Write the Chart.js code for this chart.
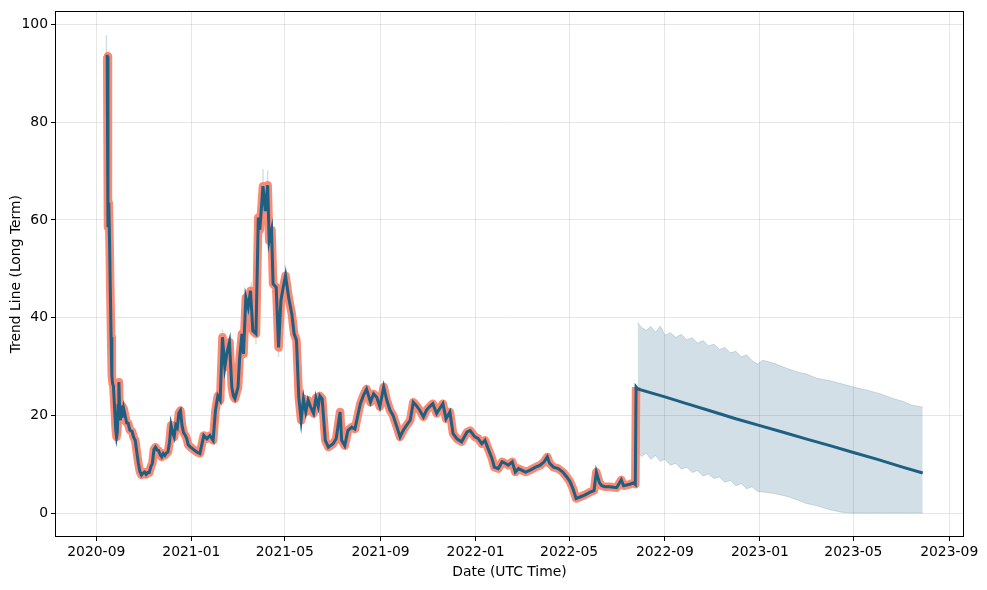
<!DOCTYPE html>
<html>
<head>
<meta charset="utf-8">
<script src="https://cdn.jsdelivr.net/npm/chart.js@4/dist/chart.umd.min.js"></script>
<style>
  html, body { margin: 0; padding: 0; background: #fff; }
</style>
</head>
<body>
<canvas id="myChart" width="987" height="590"></canvas>
<script>
// historical trend (actual)
const histDates = [
  '2020-09-13', '2020-09-15', '2020-09-16', '2020-09-17', '2020-09-18', '2020-09-19', '2020-09-20', '2020-09-21',
  '2020-09-22', '2020-09-23', '2020-09-24', '2020-09-26', '2020-09-27', '2020-09-28', '2020-09-29', '2020-09-30',
  '2020-10-01', '2020-10-02', '2020-10-03', '2020-10-04', '2020-10-06', '2020-10-08', '2020-10-10', '2020-10-12',
  '2020-10-14', '2020-10-17', '2020-10-19', '2020-10-21', '2020-10-23', '2020-10-25', '2020-10-27', '2020-10-29',
  '2020-10-31', '2020-11-02', '2020-11-04', '2020-11-06', '2020-11-08', '2020-11-10', '2020-11-12', '2020-11-14',
  '2020-11-16', '2020-11-18', '2020-11-20', '2020-11-22', '2020-11-24', '2020-11-26', '2020-11-28', '2020-11-30',
  '2020-12-02', '2020-12-04', '2020-12-06', '2020-12-08', '2020-12-10', '2020-12-12', '2020-12-14', '2020-12-16',
  '2020-12-18', '2020-12-20', '2020-12-22', '2020-12-24', '2020-12-26', '2020-12-28', '2020-12-31',
  '2021-01-04', '2021-01-08', '2021-01-12', '2021-01-17', '2021-01-21', '2021-01-25', '2021-01-29',
  '2021-02-01', '2021-02-04', '2021-02-07', '2021-02-10', '2021-02-13', '2021-02-16', '2021-02-19', '2021-02-22',
  '2021-02-24', '2021-02-26',
  '2021-03-02', '2021-03-04', '2021-03-07', '2021-03-09', '2021-03-12', '2021-03-15', '2021-03-18', '2021-03-21',
  '2021-03-25', '2021-03-28', '2021-03-30',
  '2021-04-03', '2021-04-06', '2021-04-09', '2021-04-11', '2021-04-14', '2021-04-16', '2021-04-20', '2021-04-23',
  '2021-04-26', '2021-04-29',
  '2021-05-02', '2021-05-06', '2021-05-10', '2021-05-13', '2021-05-16', '2021-05-19', '2021-05-22', '2021-05-25',
  '2021-05-28', '2021-05-31',
  '2021-06-03', '2021-06-07', '2021-06-10', '2021-06-13', '2021-06-15', '2021-06-18', '2021-06-22', '2021-06-26',
  '2021-07-02', '2021-07-06', '2021-07-11', '2021-07-13', '2021-07-17', '2021-07-21', '2021-07-26', '2021-07-30',
  '2021-08-06', '2021-08-10', '2021-08-14', '2021-08-19', '2021-08-23', '2021-08-27', '2021-08-31',
  '2021-09-05', '2021-09-09', '2021-09-13', '2021-09-17', '2021-09-22', '2021-09-26', '2021-09-30',
  '2021-10-04', '2021-10-09', '2021-10-13', '2021-10-17', '2021-10-21', '2021-10-26', '2021-10-30',
  '2021-11-03', '2021-11-07', '2021-11-12', '2021-11-16', '2021-11-20', '2021-11-24', '2021-11-29',
  '2021-12-03', '2021-12-08', '2021-12-14', '2021-12-21', '2021-12-25', '2021-12-31',
  '2022-01-04', '2022-01-09', '2022-01-13', '2022-01-17', '2022-01-22', '2022-01-25', '2022-01-30',
  '2022-02-04', '2022-02-08', '2022-02-12', '2022-02-17', '2022-02-21', '2022-02-25',
  '2022-03-01', '2022-03-06', '2022-03-12', '2022-03-19', '2022-03-25', '2022-03-30',
  '2022-04-03', '2022-04-06', '2022-04-11', '2022-04-17', '2022-04-23', '2022-04-28',
  '2022-05-02', '2022-05-06', '2022-05-10', '2022-05-15', '2022-05-21', '2022-05-28',
  '2022-06-02', '2022-06-05', '2022-06-09', '2022-06-12', '2022-06-16', '2022-06-22',
  '2022-07-01', '2022-07-07', '2022-07-10', '2022-07-18', '2022-07-23', '2022-07-25', '2022-07-26'
];
const histValues = [
  93.5, 93.5, 58.5, 63.5, 56, 46, 36, 28,
  26.5, 26, 23, 17, 15.6, 16.5, 22, 26.8,
  21, 19, 22, 19.5, 21.5, 20, 18.5, 18.4,
  17, 16.7, 15.5, 14.9, 12.5, 10.2, 8.5, 7.8,
  8.2, 8.4, 7.9, 8.3, 8.3, 9.5, 10.2, 13,
  13.5, 12.9, 12.8, 12, 11.5, 12.2, 11.8, 12.3,
  12.5, 14.5, 18, 16.5, 15.6, 18, 17.5, 20.5,
  21, 18, 16.5, 16, 15.3, 14, 13.5,
  13, 12.5, 12.2, 15.9, 15.2, 15.9, 14.9,
  21, 24, 23.1, 36, 29.9, 33, 35, 25.8,
  24, 23.4,
  25.8, 31.6, 36.7, 32.6, 44.1, 42.1, 45.5, 37.3,
  36.7, 60.5, 58,
  66.9, 61.8, 67.1, 55.7, 57.9, 46.9, 46.2, 33.9,
  43.5, 46.2,
  48.6, 44.1, 40.8, 36.7, 35.4, 23.7, 19, 23.4,
  20.7, 23.1,
  21.8, 20.4, 23.6, 21.8, 24, 23.4, 14.9, 13.5,
  14.2, 15.2, 20.7, 14.9, 13.8, 16.9, 17.6, 17.2,
  22.4, 24.1, 25.4, 22.7, 24.4, 23.7, 21.8,
  25.8, 23.1, 21.1, 20, 17.6, 15.6, 16.9,
  17.9, 19, 22.7, 22, 21.1, 19.7, 21.1,
  21.8, 22.4, 20.4, 21.4, 22.4, 19.3, 20.7,
  16.3, 15.2, 14.6, 16.6, 16.9, 15.6,
  15.3, 14.2, 14.9, 13.2, 11.2, 9.4, 9.1,
  10.5, 10.2, 9.8, 10.5, 8.4, 9.1,
  8.8, 8.4, 8.8, 9.4, 9.8, 10.5,
  11.5, 10.2, 9.4, 9.1, 8.4, 7.4,
  6.5, 5.0, 3.0, 3.3, 3.7, 4.3,
  4.6, 8.4, 6.2, 5.6, 5.4, 5.4,
  5.2, 6.8, 5.6, 5.9, 6.2, 5.9, 25.8
];

// uncertainty peeking out around the historical line
const spikeDates = ['2020-09-14', '2021-02-10', '2021-03-19', '2021-03-25', '2021-04-03', '2021-04-09', '2021-04-23', '2021-05-02'];
const spikeFrom = [93.5, 36, 45.5, 36.7, 66.9, 67.1, 33.9, 48.6];
const spikeTo = [97.8, 37.6, 47.2, 34.6, 70.4, 70.1, 32.0, 50.8];

// forecast trend line
const fcDates = ['2022-07-28', '2022-09-01', '2022-10-01', '2022-11-01', '2022-12-01', '2023-01-01', '2023-02-01',
  '2023-03-01', '2023-04-01', '2023-05-01', '2023-06-01', '2023-07-01', '2023-07-29'];
const fcValues = [25.4, 23.8, 22.3, 20.8, 19.3, 17.9, 16.5, 15.2, 13.8, 12.4, 11.0, 9.5, 8.2];

// forecast uncertainty band
const bandDates = ['2022-07-28', '2022-08-02', '2022-08-08', '2022-08-14', '2022-08-20', '2022-08-26',
  '2022-09-01', '2022-09-08', '2022-09-15', '2022-09-22', '2022-09-29', '2022-10-06', '2022-10-13',
  '2022-10-20', '2022-10-27', '2022-11-03', '2022-11-10', '2022-11-17', '2022-11-24', '2022-12-01',
  '2022-12-08', '2022-12-15', '2022-12-22', '2022-12-29', '2023-01-05', '2023-01-20', '2023-02-05',
  '2023-02-20', '2023-03-01', '2023-03-15', '2023-04-01', '2023-04-15', '2023-05-01', '2023-05-20',
  '2023-06-05', '2023-06-20', '2023-07-05', '2023-07-15', '2023-07-29'];
const bandUpper = [39.0, 38.0, 37.4, 38.2, 37.0, 38.3,
  36.4, 36.9, 36.0, 36.6, 35.5, 35.9, 34.8,
  35.3, 34.2, 34.6, 33.5, 33.9, 32.8, 33.1,
  32.0, 32.4, 31.2, 30.5, 31.3, 30.6, 29.6,
  28.8, 28.5, 27.6, 27.1, 26.5, 25.8, 25.1,
  24.4, 23.5, 22.8, 22.1, 21.7];
const bandLower = [12.5, 11.6, 12.3, 11.0, 11.8, 10.6,
  11.0, 9.8, 10.2, 9.0, 9.4, 8.3, 8.7,
  7.6, 8.0, 7.1, 7.4, 6.3, 6.7, 5.6,
  6.0, 5.0, 5.4, 4.4, 4.3, 4.0, 3.4,
  2.6, 2.0, 1.5, 0.7, 0.2, 0, 0,
  0, 0, 0, 0, 0];

const xTickLabels = ['2020-09', '2021-01', '2021-05', '2021-09', '2022-01', '2022-05', '2022-09', '2023-01', '2023-05', '2023-09'];
const yTickValues = [0, 20, 40, 60, 80, 100];

const toTime = (s) => Date.parse(s + 'T00:00:00Z');
const pts = (dates, vals) => dates.map((d, i) => ({ x: toTime(d), y: vals[i] }));

// vertical little segments, broken by nulls
const spikePts = [];
spikeDates.forEach((d, i) => {
  spikePts.push({ x: toTime(d), y: spikeFrom[i] });
  spikePts.push({ x: toTime(d), y: spikeTo[i] });
  spikePts.push({ x: toTime(d), y: null });
});

const bandColor = 'rgba(31, 96, 132, 0.2)';
const font = { family: 'DejaVu Sans', size: 13.9 };

const boxPlugin = {
  id: 'box',
  afterDatasetsDraw(chart) {
    const { ctx, chartArea: a } = chart;
    ctx.save();
    ctx.strokeStyle = '#000';
    ctx.lineWidth = 1;
    ctx.strokeRect(Math.round(a.left) + 0.5, Math.round(a.top) + 0.5, Math.round(a.right - a.left) - 1, Math.round(a.bottom - a.top) - 1);
    ctx.restore();
  }
};

const grid = {
  color: 'rgba(128, 128, 128, 0.2)',
  lineWidth: 1,
  drawTicks: true,
  tickLength: 4,
  tickColor: '#000'
};

new Chart(document.getElementById('myChart'), {
  type: 'line',
  data: {
    datasets: [
      {
        data: pts(histDates, histValues).concat(pts(fcDates, fcValues)),
        borderColor: '#1f5f82',
        borderWidth: 3,
        pointRadius: 0,
        order: 0
      },
      {
        data: pts(histDates, histValues),
        borderColor: '#fa8a74',
        borderWidth: 8.5,
        borderJoinStyle: 'round',
        pointRadius: 0,
        order: 1
      },
      {
        data: spikePts,
        borderColor: bandColor,
        borderWidth: 1.5,
        pointRadius: 0,
        spanGaps: false,
        order: 2
      },
      {
        data: pts(bandDates, bandUpper),
        borderColor: 'rgba(31, 96, 132, 0.18)',
        borderWidth: 1,
        backgroundColor: bandColor,
        fill: 4,
        pointRadius: 0,
        order: 3
      },
      {
        data: pts(bandDates, bandLower),
        borderColor: 'rgba(31, 96, 132, 0.18)',
        borderWidth: 1,
        pointRadius: 0,
        fill: false,
        order: 4
      }
    ]
  },
  options: {
    responsive: false,
    animation: false,
    events: [],
    layout: { padding: { top: 10, right: 23, bottom: 0, left: 0 } },
    plugins: { legend: { display: false }, tooltip: { enabled: false } },
    scales: {
      x: {
        type: 'linear',
        min: toTime('2020-07-10'),
        max: toTime('2023-09-20'),
        grid: grid,
        border: { display: false },
        afterBuildTicks: (scale) => {
          scale.ticks = xTickLabels.map((l) => ({ value: toTime(l + '-01') }));
        },
        afterFit: (scale) => { scale.height = 53; },
        ticks: {
          autoSkip: false,
          maxRotation: 0,
          padding: 3,
          color: '#000',
          font: font,
          callback: (v) => new Date(v).toISOString().slice(0, 7)
        },
        title: { display: true, text: 'Date (UTC Time)', color: '#000', font: font, padding: { top: 0, bottom: 9.7 } }
      },
      y: {
        min: -4.89,
        max: 102.69,
        grid: grid,
        border: { display: false },
        afterBuildTicks: (scale) => {
          scale.ticks = yTickValues.map((v) => ({ value: v }));
        },
        afterFit: (scale) => { scale.width = 55; },
        ticks: { padding: 3, color: '#000', font: font },
        title: { display: true, text: 'Trend Line (Long Term)', color: '#000', font: font, padding: { top: 7.7, bottom: 0 } }
      }
    }
  },
  plugins: [boxPlugin]
});
</script>
</body>
</html>
